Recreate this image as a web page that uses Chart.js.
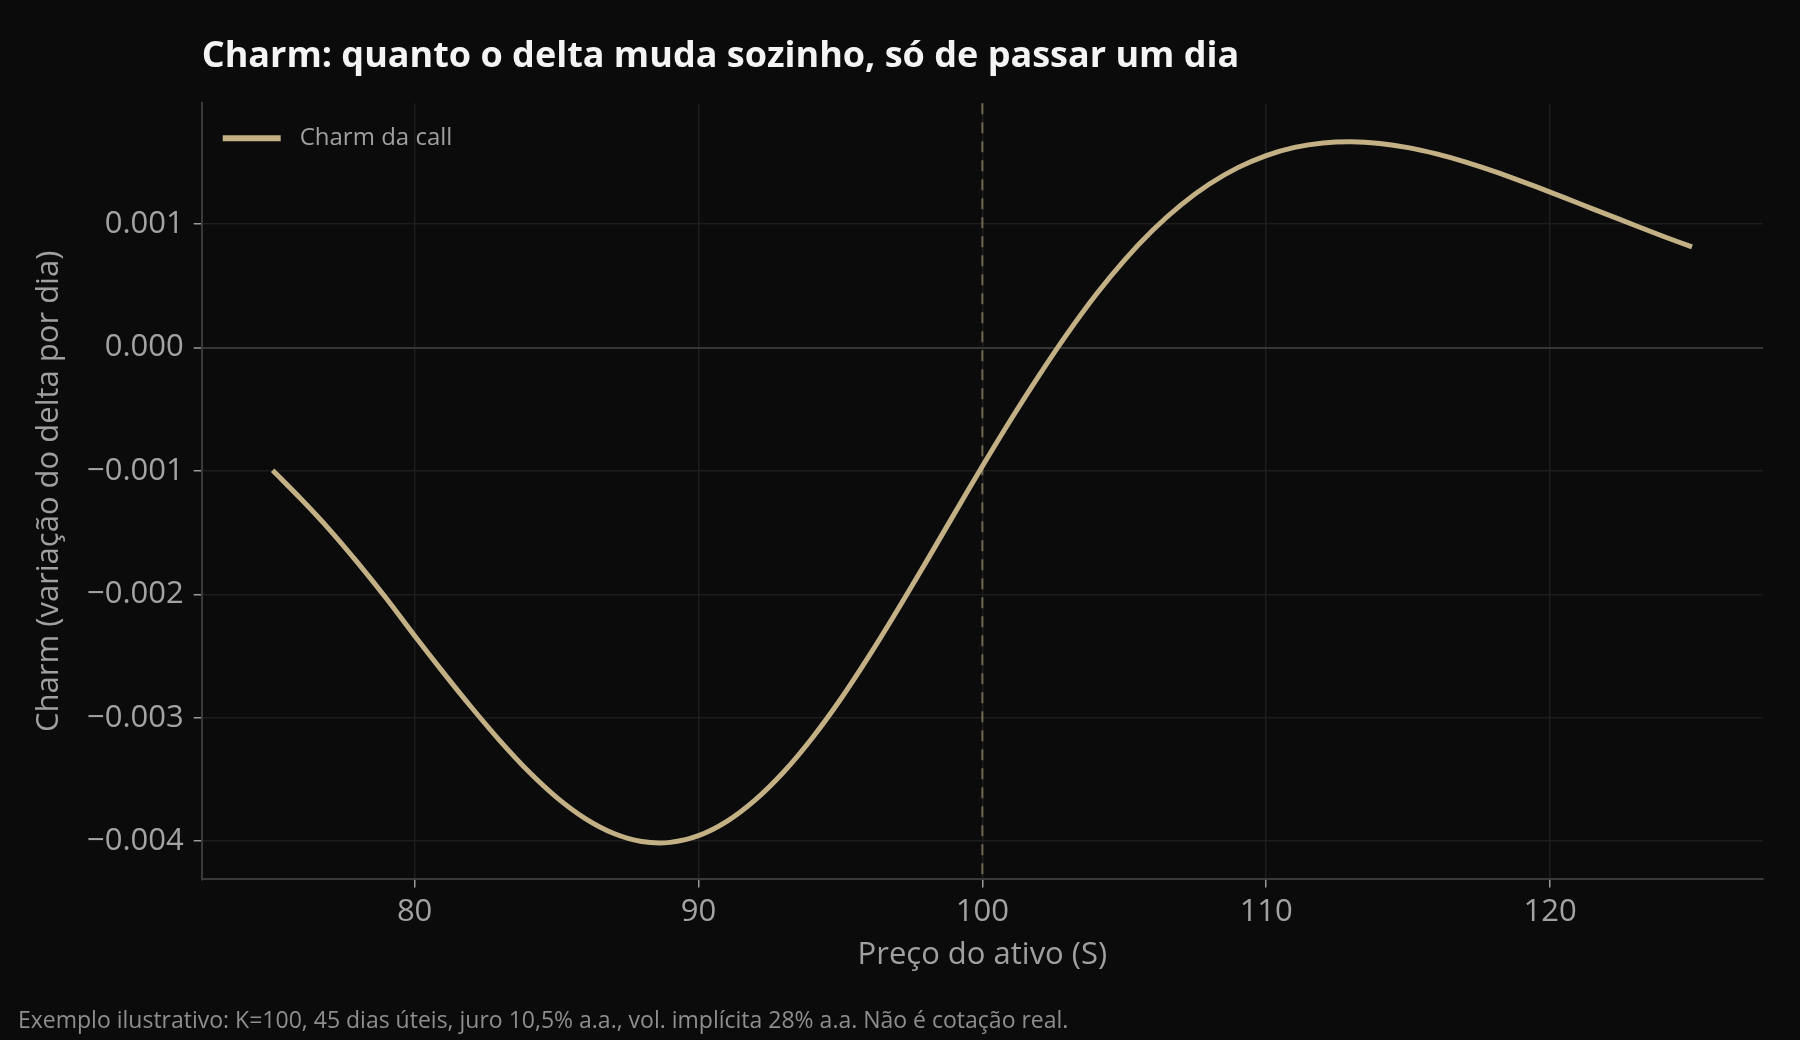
<!DOCTYPE html>
<html lang="pt-BR">
<head>
<meta charset="utf-8">
<title>Charm da call</title>
<script src="https://cdn.jsdelivr.net/npm/chart.js@4.4.1/dist/chart.umd.min.js"></script>
<style>
  html, body { margin: 0; padding: 0; background: #0b0b0b; }
  #wrap { position: relative; width: 1800px; height: 1040px; }
</style>
</head>
<body>
<div id="wrap"><canvas id="charm-chart"></canvas></div>
<script>
// Dados: preço do ativo (S) e charm diário da call
const spotPrices = [
  75, 76, 77, 78, 79, 80, 81, 82, 83, 84,
  85, 86, 87, 88, 89, 90, 91, 92, 93, 94,
  95, 96, 97, 98, 99, 100, 101, 102, 103, 104,
  105, 106, 107, 108, 109, 110, 111, 112, 113, 114,
  115, 116, 117, 118, 119, 120, 121, 122, 123, 124, 125
];
const charmValues = [
  -0.000995, -0.001228, -0.001475, -0.001745, -0.002032, -0.002336, -0.002630, -0.002915, -0.003185, -0.003432,
  -0.003645, -0.003815, -0.003936, -0.004003, -0.004010, -0.003956, -0.003840, -0.003666, -0.003440, -0.003166,
  -0.002852, -0.002503, -0.002131, -0.001745, -0.001352, -0.000962, -0.000585, -0.000225, 0.000115, 0.000428,
  0.000707, 0.000950, 0.001156, 0.001325, 0.001458, 0.001556, 0.001622, 0.001658, 0.001668, 0.001654,
  0.001620, 0.001569, 0.001505, 0.001430, 0.001347, 0.001260, 0.001169, 0.001079, 0.000989, 0.000900, 0.000815
];
const xTicks = [80, 90, 100, 110, 120];
const yTicks = [-0.004, -0.003, -0.002, -0.001, 0, 0.001];
const strikeK = 100;

const seriesLabel = "Charm da call";
const chartTitle = "Charm: quanto o delta muda sozinho, só de passar um dia";
const xTitle = "Preço do ativo (S)";
const yTitle = "Charm (variação do delta por dia)";
const footNote = "Exemplo ilustrativo: K=100, 45 dias úteis, juro 10,5% a.a., vol. implícita 28% a.a. Não é cotação real.";

const lineColor = "#c3b185";
const tickColor = "#a3a3a3";

Chart.defaults.font.family = "'Open Sans', 'Noto Sans', sans-serif";

// linha vertical tracejada no strike
const strikeLine = {
  id: "strikeLine",
  beforeDatasetsDraw(chart) {
    const { ctx, chartArea, scales } = chart;
    const x = scales.x.getPixelForValue(strikeK);
    ctx.save();
    ctx.strokeStyle = "rgba(170, 155, 118, 0.6)";
    ctx.lineWidth = 2;
    ctx.setLineDash([11, 8]);
    ctx.beginPath();
    ctx.moveTo(x, chartArea.top);
    ctx.lineTo(x, chartArea.bottom);
    ctx.stroke();
    ctx.restore();
  }
};

// legenda dentro da área do gráfico, canto superior esquerdo
const innerLegend = {
  id: "innerLegend",
  afterDraw(chart) {
    const { ctx, chartArea } = chart;
    const ds = chart.data.datasets[0];
    const x0 = chartArea.left + 21;
    const y0 = chartArea.top + 35;
    ctx.save();
    ctx.strokeStyle = ds.borderColor;
    ctx.lineWidth = 6;
    ctx.beginPath();
    ctx.moveTo(x0, y0);
    ctx.lineTo(x0 + 58, y0);
    ctx.stroke();
    ctx.fillStyle = "#a0a0a0";
    ctx.font = "24px 'Open Sans', 'Noto Sans', sans-serif";
    ctx.textBaseline = "middle";
    ctx.fillText(ds.label, x0 + 77, y0);
    ctx.restore();
  }
};

const formatY = (v) => {
  const s = Number(v).toFixed(3);
  return s.startsWith("-") ? "\u2212" + s.slice(1) : s;
};

new Chart(document.getElementById("charm-chart"), {
  type: "line",
  data: {
    datasets: [{
      label: seriesLabel,
      data: spotPrices.map((s, i) => ({ x: s, y: charmValues[i] })),
      borderColor: lineColor,
      backgroundColor: lineColor,
      borderWidth: 5,
      pointRadius: 0,
      tension: 0.35,
      fill: false
    }]
  },
  options: {
    responsive: true,
    maintainAspectRatio: false,
    devicePixelRatio: 1,
    animation: false,
    layout: { padding: { left: 18, right: 37, top: 0, bottom: 0 } },
    plugins: {
      legend: { display: false },
      tooltip: { enabled: false },
      title: {
        display: true,
        text: chartTitle,
        align: "start",
        fullSize: false,
        color: "#f4f4f4",
        font: { size: 36, weight: "bold" },
        padding: { top: 35, bottom: 25 }
      },
      subtitle: {
        display: true,
        text: footNote,
        position: "bottom",
        align: "start",
        color: "#8e8e8e",
        font: { size: 23 },
        padding: { top: 8, bottom: 5 }
      }
    },
    scales: {
      x: {
        type: "linear",
        min: 72.5,
        max: 127.5,
        afterBuildTicks: (axis) => { axis.ticks = xTicks.map(v => ({ value: v })); },
        afterFit: (axis) => { axis.height = 120; },
        ticks: { color: tickColor, font: { size: 31 }, padding: 6 },
        grid: { color: "#1d1d1d", lineWidth: 1.5, tickColor: "#9a9a9a", tickLength: 8, tickWidth: 1.5 },
        border: { display: true, color: "#3a3a3a", width: 2 },
        title: {
          display: true,
          text: xTitle,
          color: "#a0a0a0",
          font: { size: 31 },
          padding: { top: 0, bottom: 26 }
        }
      },
      y: {
        type: "linear",
        min: -0.00431,
        max: 0.00198,
        afterBuildTicks: (axis) => { axis.ticks = yTicks.map(v => ({ value: v })); },
        afterFit: (axis) => { axis.width = 183.7; },
        ticks: { color: tickColor, font: { size: 31 }, padding: 10, callback: formatY },
        grid: {
          color: (c) => (c.tick && c.tick.value === 0 ? "#363636" : "#1d1d1d"),
          lineWidth: (c) => (c.tick && c.tick.value === 0 ? 2 : 1.5),
          tickColor: "#9a9a9a",
          tickLength: 8,
          tickWidth: 1.5
        },
        border: { display: true, color: "#3a3a3a", width: 2 },
        title: {
          display: true,
          text: yTitle,
          color: "#a0a0a0",
          font: { size: 31 },
          padding: { top: 13, bottom: 0 }
        }
      }
    }
  },
  plugins: [strikeLine, innerLegend]
});
</script>
</body>
</html>
